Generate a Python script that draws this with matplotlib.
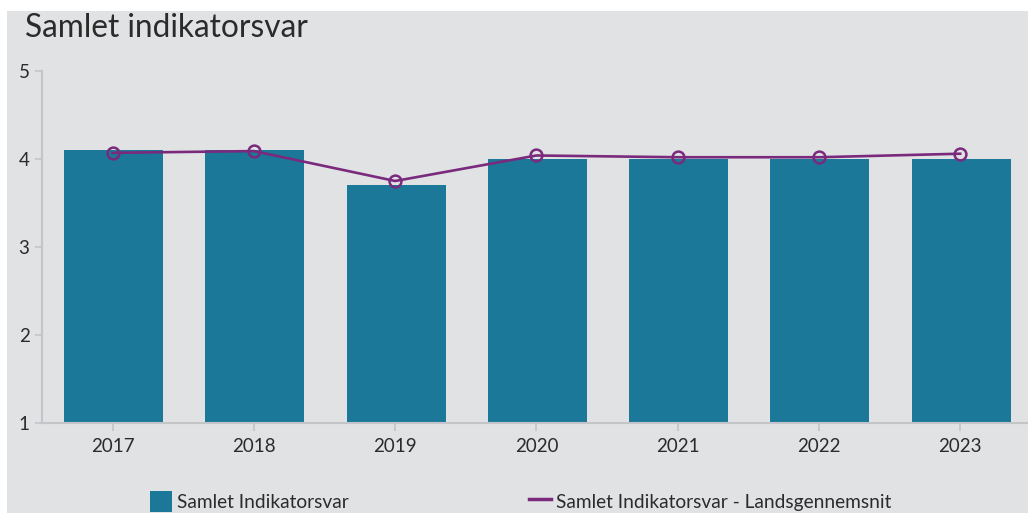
import matplotlib.pyplot as plt
from matplotlib.patches import Rectangle
from matplotlib.lines import Line2D

plt.rcParams['font.family'] = ['Lato', 'DejaVu Sans']

# data
years = ['2017', '2018', '2019', '2020', '2021', '2022', '2023']
samlet = [4.1, 4.1, 3.7, 4.0, 4.0, 4.0, 4.0]
landsgennemsnit = [4.07, 4.09, 3.75, 4.04, 4.02, 4.02, 4.06]

bar_color = '#1b7898'
line_color = '#7a2a7c'
bg = '#e1e2e4'
axis_gray = '#c4c5c8'
text_color = '#2b2b2b'

fig = plt.figure(figsize=(10.28, 5.13), dpi=100)
fig.patch.set_facecolor('white')
fig.patches.append(Rectangle((7 / 1028, 0), 1, 1 - 11 / 513, transform=fig.transFigure,
                             facecolor=bg, edgecolor='none', zorder=-10))

ax = fig.add_axes([42 / 1028, 1 - 423 / 513, 1 - 42 / 1028, (423 - 71) / 513])
ax.set_facecolor('none')

x = range(len(years))
ax.bar([i + 0.007 for i in x], [v - 1 for v in samlet], bottom=1, width=0.7,
       color=bar_color, label='Samlet Indikatorsvar', zorder=2)
ax.plot(x, landsgennemsnit, color=line_color, lw=1.9, marker='o', ms=8.5,
        mfc='none', mec=line_color, mew=1.8, zorder=3,
        label='Samlet Indikatorsvar - Landsgennemsnit')

ax.set_xlim(-0.5, 6.48)
ax.set_ylim(1, 5)
ax.set_yticks([1, 2, 3, 4, 5])
ax.set_xticks(list(x))
ax.set_xticklabels(years)

for side in ['top', 'right']:
    ax.spines[side].set_visible(False)
for side in ['left', 'bottom']:
    ax.spines[side].set_color(axis_gray)
    ax.spines[side].set_linewidth(1.5)
ax.tick_params(axis='x', length=6, width=1.2, color=axis_gray, labelsize=13.5,
               labelcolor=text_color, pad=5)
ax.tick_params(axis='y', length=5, width=1.2, color=axis_gray, labelsize=13.5,
               labelcolor=text_color, pad=4)

fig.text(25 / 1028, 1 - 28 / 513, 'Samlet indikatorsvar', fontsize=22.8,
         color=text_color, va='center', ha='left')

handles = [Rectangle((0, 0), 1, 1, facecolor=bar_color),
           Line2D([], [], color=line_color, lw=2.5)]
labels = ['Samlet Indikatorsvar', 'Samlet Indikatorsvar - Landsgennemsnit']
fig.legend(handles, labels, loc='upper left', ncol=2,
           bbox_to_anchor=(150 / 1028, 1 - 491 / 513), frameon=False,
           fontsize=13.8, labelcolor=text_color, handlelength=1.15,
           handleheight=1.3, handletextpad=0.25, columnspacing=9.4,
           borderpad=0, borderaxespad=0)

fig.savefig('out.png', dpi=100, facecolor='white')
